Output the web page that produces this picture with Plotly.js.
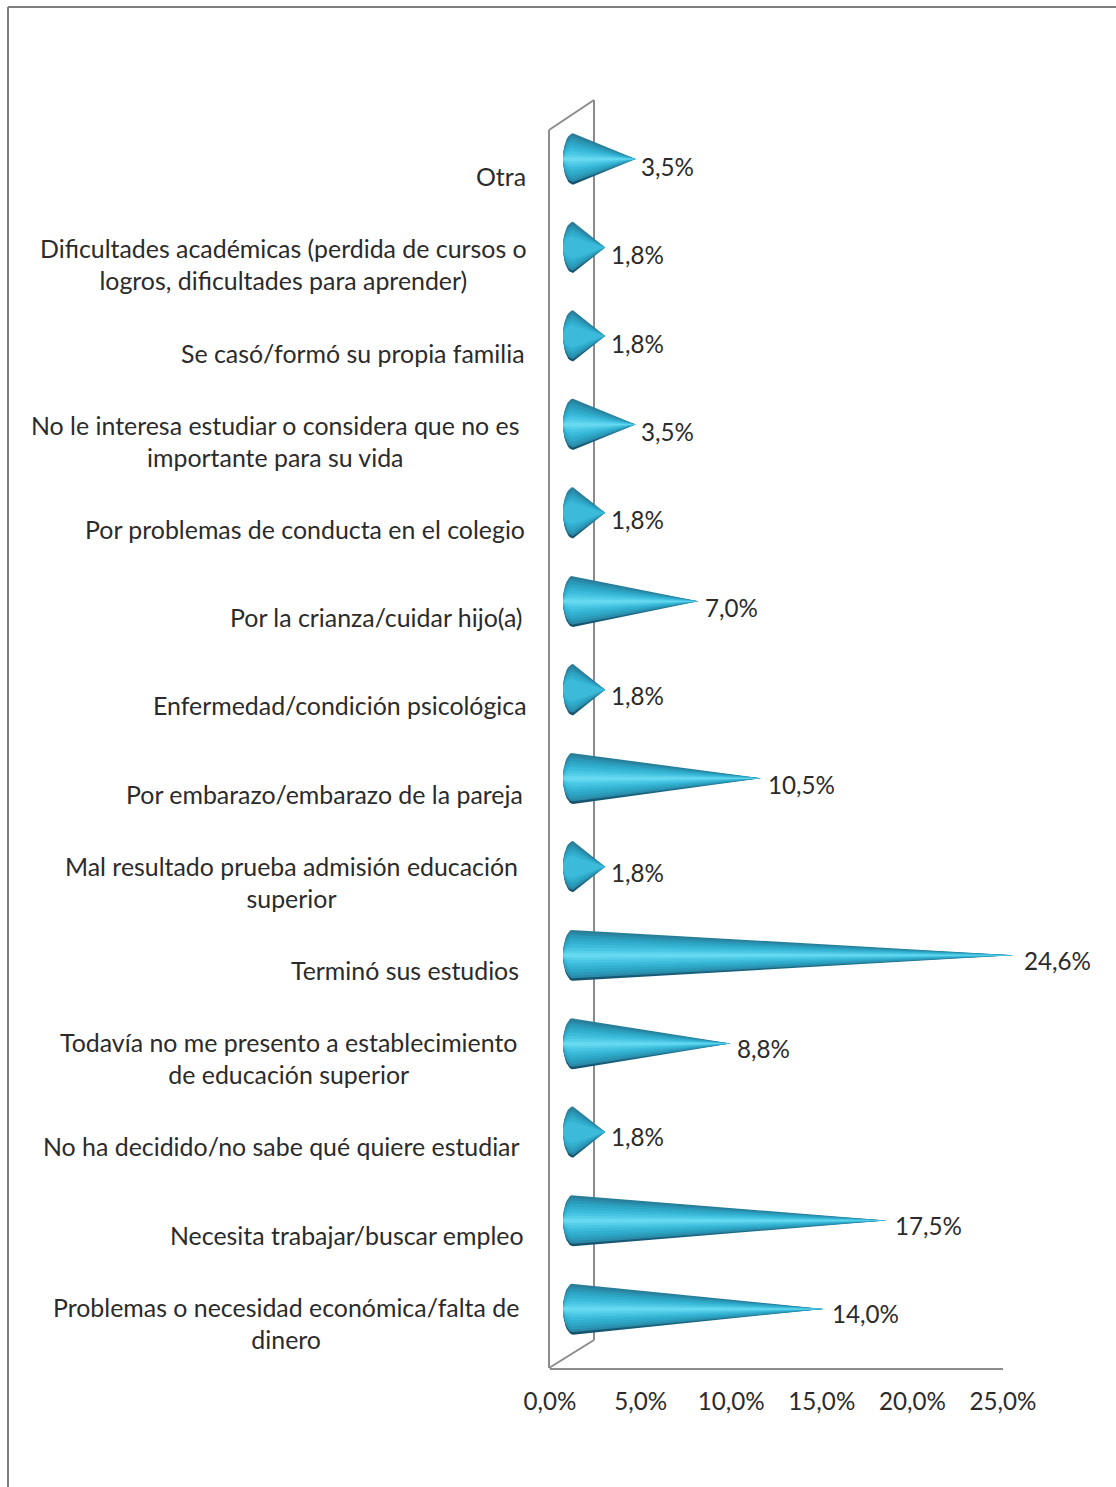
<!DOCTYPE html>
<html><head><meta charset="utf-8">
<script src="https://cdn.plot.ly/plotly-3.0.1.min.js"></script>
<style>html,body{margin:0;padding:0;background:#fff}</style></head>
<body><div id="chart" style="width:1116px;height:1487px"></div>
<script>
// Data, bottom to top as on the chart
const categories = [
 "Problemas o necesidad económica/falta de<br>dinero",
 "Necesita trabajar/buscar empleo",
 "No ha decidido/no sabe qué quiere estudiar",
 "Todavía no me presento a establecimiento<br>de educación superior",
 "Terminó sus estudios",
 "Mal resultado prueba admisión educación<br>superior",
 "Por embarazo/embarazo de la pareja",
 "Enfermedad/condición psicológica",
 "Por la crianza/cuidar hijo(a)",
 "Por problemas de conducta en el colegio",
 "No le interesa estudiar o considera que no es<br>importante para su vida",
 "Se casó/formó su propia familia",
 "Dificultades académicas (perdida de cursos o<br>logros, dificultades para aprender)",
 "Otra"
];
const values = [14.0,17.5,1.8,8.8,24.6,1.8,10.5,1.8,7.0,1.8,3.5,1.8,1.8,3.5];
const axisTicks = [0,5,10,15,20,25];
const axisTickLabels = ["0,0%","5,0%","10,0%","15,0%","20,0%","25,0%"];

// Layout helpers (pixels in the 1116x1487 page)
const W=1116,H=1487;
const px=x=>x/W, py=y=>1-y/H;
const labelCenters=[285.5,346.5,281.5,288,405.5,291.5,324,339.5,376,305,275,353,283,500.5];
const FONT={family:'Lato, sans-serif',size:24.9,color:'#2b2b2b'};
const NUMFONT={family:'Lato, sans-serif',size:24.2,color:'#2b2b2b'};
const idx=categories.map((_,i)=>i);

// Cone shading: nested outlines sharing one tip, dark at the rim, bright along the core
const bands=[
 [1.00,null],[0.90,'#2a8aa8'],[0.80,'#2b9ab9'],[0.68,'#2ea6c6'],[0.56,'#33b0d0'],
 [0.44,'#3cbad9'],[0.32,'#48c5e2'],[0.20,'#56cfe9'],[0.10,'#66d9f0']
];
const RY=0.29, RX=0.56;
const traces=[];
values.forEach((v,i)=>{
  // the shortest cones read darker in the reference: they stop before the brightest core bands
  const used=v<2?bands.slice(0,6):bands;
  used.forEach(([k,col])=>{
    const xs=[v], ys=[i];
    for(let a=90;a>=-90;a-=10){
      const t=a*Math.PI/180;
      xs.push(-RX*Math.cos(t)); ys.push(i+RY*k*Math.sin(t));
    }
    xs.push(v); ys.push(i);
    const tr={x:xs,y:ys,xaxis:'x2',yaxis:'y2',mode:'lines',fill:'toself',line:{width:0},hoverinfo:'skip',showlegend:false};
    if(col===null){
      tr.fillcolor='#1f6a84';
      tr.fillgradient={type:'vertical',colorscale:[[0,'#15506a'],[0.5,'#1f7f9c'],[1,'#2b7e98']]};
    } else tr.fillcolor=col;
    traces.push(tr);
  });
});
// Anchor trace for the category axis
traces.push({x:values.map(()=>0),y:idx,xaxis:'x',yaxis:'y',mode:'markers',marker:{opacity:0,size:1},hoverinfo:'skip',showlegend:false});

const annotations=[];
categories.forEach((c,i)=>annotations.push({text:c,xref:'paper',x:px(labelCenters[i]),xanchor:'center',yref:'y',y:i,yanchor:'middle',yshift:1,showarrow:false,align:'center',font:FONT}));
values.forEach((v,i)=>annotations.push({text:v.toFixed(1).replace('.',',')+'%',xref:'x',x:v,xanchor:'left',yref:'y',y:i,yanchor:'middle',yshift:10.5,xshift:26,showarrow:false,font:NUMFONT}));

const grey='#8c8c8c';
const line=(x0,y0,x1,y1,c,w)=>({type:'line',xref:'paper',yref:'paper',x0:px(x0),y0:py(y0),x1:px(x1),y1:py(y1),line:{color:c||grey,width:w||2},layer:'below'});
const shapes=[
 line(8,7,8,1487,'#7f7f7f',2), line(8,7,1116,7,'#7f7f7f',2),
 line(549,130,549,1368), line(549,130,594,100), line(594,100,594,1340), line(549,1368,594,1340)
];

const pxPerUnit=17.9, zeroPx=573;
const layout={
 width:W,height:H,margin:{l:0,r:0,t:0,b:0},paper_bgcolor:'#fff',plot_bgcolor:'rgba(0,0,0,0)',showlegend:false,
 annotations,shapes,font:FONT,
 xaxis:{domain:[px(550),px(1003)],range:[0,25],tickmode:'array',tickvals:axisTicks,ticktext:axisTickLabels,
   showgrid:false,zeroline:false,showline:true,linecolor:grey,linewidth:2,ticks:'',ticklabelstandoff:11,tickfont:NUMFONT,anchor:'y'},
 yaxis:{domain:[py(1368),py(133)],type:'category',categoryorder:'array',categoryarray:idx,range:[-0.5,13.5],showgrid:false,zeroline:false,showticklabels:false,ticks:'',anchor:'x'},
 xaxis2:{domain:[px(zeroPx-pxPerUnit),px(zeroPx+pxPerUnit*25)],range:[-1,25],visible:false,anchor:'y2'},
 yaxis2:{domain:[py(1309+44.23),py(159-44.23)],range:[-0.5,13.5],visible:false,anchor:'x2'}
};
Plotly.newPlot('chart',traces,layout,{displayModeBar:false,staticPlot:true});
</script></body></html>
